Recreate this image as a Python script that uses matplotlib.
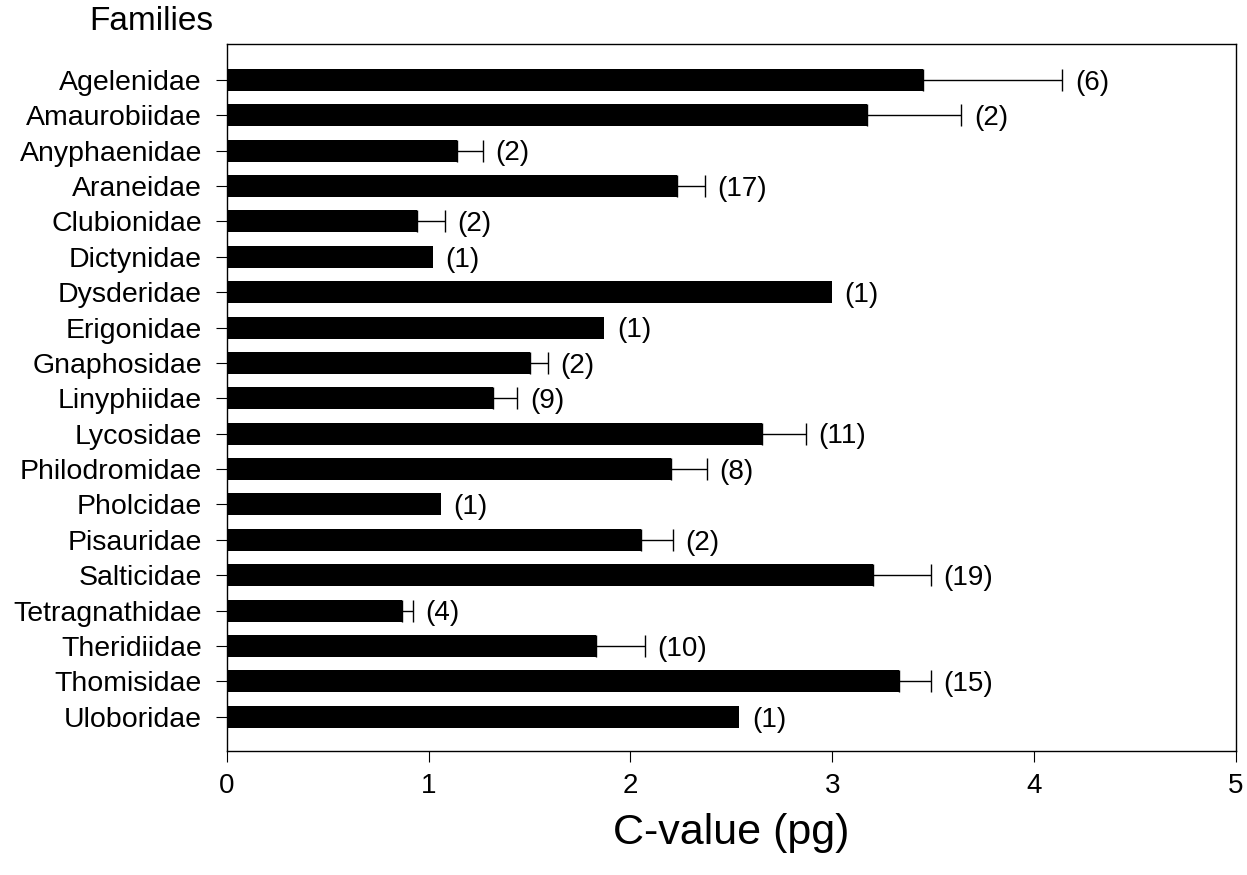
import numpy as np
import matplotlib.pyplot as plt

families = ["Agelenidae", "Amaurobiidae", "Anyphaenidae", "Araneidae", "Clubionidae",
            "Dictynidae", "Dysderidae", "Erigonidae", "Gnaphosidae", "Linyphiidae",
            "Lycosidae", "Philodromidae", "Pholcidae", "Pisauridae", "Salticidae",
            "Tetragnathidae", "Theridiidae", "Thomisidae", "Uloboridae"]
c_values = [3.45, 3.17, 1.14, 2.23, 0.94, 1.02, 3.00, 1.87, 1.50, 1.32,
            2.65, 2.20, 1.06, 2.05, 3.20, 0.87, 1.83, 3.33, 2.54]
# upper error only; nan = single species, no error bar
errors = [0.69, 0.47, 0.13, 0.14, 0.14, np.nan, np.nan, np.nan, 0.09, 0.12,
          0.22, 0.18, np.nan, 0.16, 0.29, 0.05, 0.24, 0.16, np.nan]
n_species = [6, 2, 2, 17, 2, 1, 1, 1, 2, 9, 11, 8, 1, 2, 19, 4, 10, 15, 1]


def main():
    plt.rcParams['font.family'] = ['Liberation Sans', 'DejaVu Sans']
    fig = plt.figure(figsize=(12.47, 8.75), dpi=100)
    ax = fig.add_axes([0.182, 0.142, 0.809, 0.808])

    vals = np.array(c_values)
    errs = np.array(errors)
    y = np.arange(len(families))[::-1]

    ax.barh(y, vals, height=0.62, color='black')

    has_err = ~np.isnan(errs)
    ax.errorbar(vals[has_err], y[has_err],
                xerr=[np.zeros(has_err.sum()), errs[has_err]],
                fmt='none', ecolor='black', elinewidth=1, capsize=8, capthick=1)

    ends = np.where(has_err, vals + np.nan_to_num(errs), vals)
    for yi, xe, n in zip(y, ends, n_species):
        ax.annotate(f"({n})", (xe, yi), xytext=(9, -2), textcoords='offset points',
                    ha='left', va='center', fontsize=20)

    ax.set_xlim(0, 5)
    ax.set_ylim(-0.96, len(families) + 0.02)
    ax.set_yticks(y)
    ax.set_yticklabels(families, fontsize=20.5)
    ax.set_xticks(range(6))
    ax.tick_params(axis='x', labelsize=20, length=8, pad=8)
    ax.tick_params(axis='y', length=8, pad=10)
    for s in ax.spines.values():
        s.set_linewidth(1)

    ax.set_xlabel('C-value (pg)', fontsize=31, labelpad=10)
    fig.text(0.121, 0.975, 'Families', fontsize=24, ha='center', va='center')

    fig.savefig('out.png', dpi=100)
    plt.close(fig)


if __name__ == "__main__":
    main()
